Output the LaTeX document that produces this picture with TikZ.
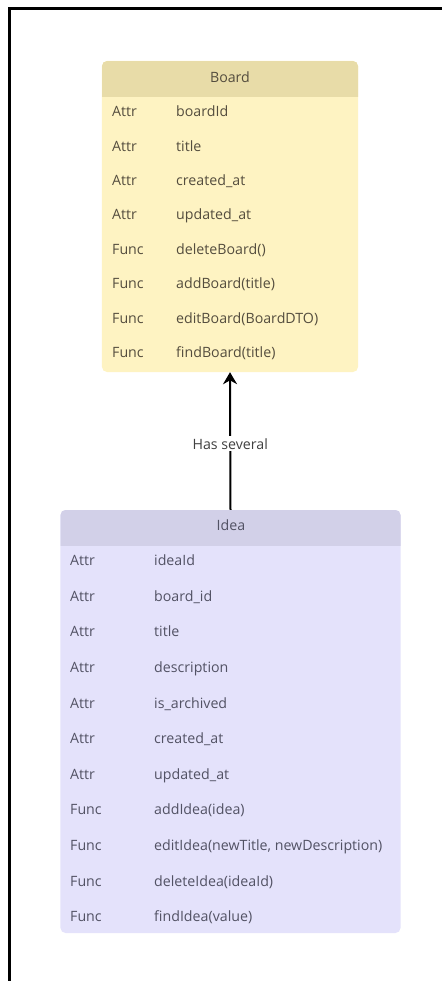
\documentclass[tikz,border=0pt]{standalone}
\usepackage{fontspec}
\setmainfont{Open Sans}
\usetikzlibrary{arrows.meta}

\definecolor{boardhead}{HTML}{E8DCA8}
\definecolor{boardbody}{HTML}{FEF3C2}
\definecolor{boardtext}{HTML}{544D3E}
\definecolor{ideahead}{HTML}{D2D0E8}
\definecolor{ideabody}{HTML}{E4E2FB}
\definecolor{ideatext}{HTML}{525264}

\tikzset{
  boxbody/.style={draw=none, rounded corners=5bp, inner sep=0pt},
  rowtext/.style={anchor=mid west, inner sep=0pt, font=\fontsize{14.2bp}{17bp}\selectfont},
  headtext/.style={anchor=mid, inner sep=0pt, font=\fontsize{14.2bp}{17bp}\selectfont},
  relation/.style={line width=2bp, -{Stealth[length=12bp, width=14bp]}},
  rellabel/.style={fill=white, inner sep=2bp, font=\fontsize{14.2bp}{17bp}\selectfont, text=black!75}
}

\begin{document}
\begin{tikzpicture}[x=1bp, y=-1bp]
  \useasboundingbox (0,0) rectangle (442,981);

  % frame along the top and left edges
  \draw[line width=2.5bp] (9.5,981) -- (9.5,8.5) -- (442,8.5);

  % ---------- Board ----------
  \node[boxbody, fill=boardbody, minimum width=256bp, minimum height=311bp] (board) at (230,216.5) {};
  \begin{scope}
    \clip (102,61) rectangle (358,96);
    \fill[boardhead, rounded corners=5bp] (102,61) rectangle (358,110);
  \end{scope}
  \node[headtext, text=boardtext] (boardname) at (230,80) {Board};

  \foreach \k/\kind/\member [count=\i] in {
      0/Attr/boardId, 1/Attr/title, 2/Attr/created\_at, 3/Attr/updated\_at,
      4/Func/deleteBoard(), 5/Func/addBoard(title), 6/Func/editBoard(BoardDTO),
      7/Func/findBoard(title)} {
    \node[rowtext, text=boardtext] (bk\i) at (112,114+34.4*\k) {\kind};
    \node[rowtext, text=boardtext] (bm\i) at (176,114+34.4*\k) {\member};
  }

  % ---------- Idea ----------
  \node[boxbody, fill=ideabody, minimum width=340bp, minimum height=423bp] (idea) at (230.5,721.5) {};
  \begin{scope}
    \clip (60.5,510) rectangle (400.5,545);
    \fill[ideahead, rounded corners=5bp] (60.5,510) rectangle (400.5,560);
  \end{scope}
  \node[headtext, text=ideatext] (ideaname) at (231,528) {Idea};

  \foreach \k/\kind/\member [count=\i] in {
      0/Attr/ideaId, 1/Attr/board\_id, 2/Attr/title, 3/Attr/description,
      4/Attr/is\_archived, 5/Attr/created\_at, 6/Attr/updated\_at,
      7/Func/addIdea(idea), 8/Func/editIdea(newTitle{,} newDescription),
      9/Func/deleteIdea(ideaId), 10/Func/findIdea(value)} {
    \node[rowtext, text=ideatext] (ik\i) at (70,563+35.6*\k) {\kind};
    \node[rowtext, text=ideatext] (im\i) at (154,563+35.6*\k) {\member};
  }

  % ---------- relation ----------
  \draw[relation] (idea.north) -- (board.south)
    node[rellabel, pos=0.48] (rel) {Has several};
\end{tikzpicture}
\end{document}
